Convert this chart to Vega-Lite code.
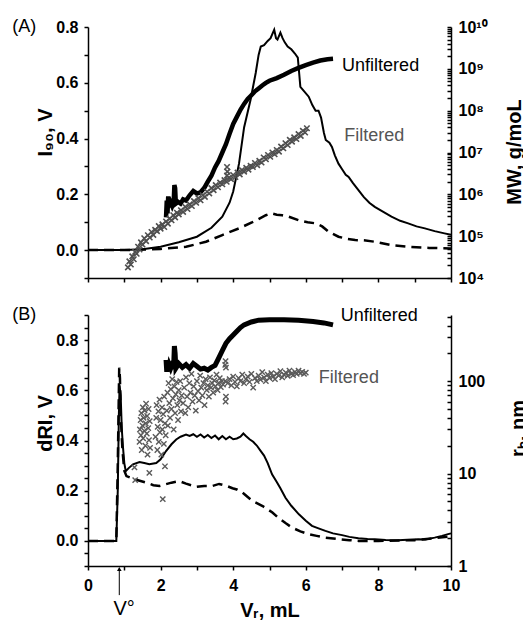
{
"$schema":"https://vega.github.io/schema/vega-lite/v6.json",
"padding":{"left":12,"top":18,"right":0,"bottom":0},
"bounds":"flush",
"spacing":37,
"config":{"view":{"stroke":null},"font":"Liberation Sans",
"axis":{"grid":false,"domainColor":"#000","domainWidth":1.5,"tickColor":"#000","tickWidth":1.5,"tickSize":4,"labelFont":"Liberation Sans","labelFontSize":16,"labelFontWeight":"bold","labelColor":"#000","titleFont":"Liberation Sans","titleFontSize":20,"titleFontWeight":"bold","titleColor":"#000","labelFlush":false,"labelOverlap":false,"labelBound":false}},
"datasets":{
"topSolid":[{"x":0,"v":0},{"x":0.5,"v":0},{"x":1,"v":0},{"x":1.5,"v":0.003},{"x":2,"v":0.012},{"x":2.5,"v":0.028},{"x":3,"v":0.048},{"x":3.4,"v":0.08},{"x":3.7,"v":0.12},{"x":3.9,"v":0.17},{"x":4,"v":0.21},{"x":4.16,"v":0.31},{"x":4.3,"v":0.44},{"x":4.48,"v":0.54},{"x":4.62,"v":0.635},{"x":4.7,"v":0.7},{"x":4.76,"v":0.73},{"x":4.85,"v":0.735},{"x":4.95,"v":0.75},{"x":5.03,"v":0.76},{"x":5.08,"v":0.775},{"x":5.13,"v":0.79},{"x":5.18,"v":0.76},{"x":5.22,"v":0.755},{"x":5.3,"v":0.78},{"x":5.36,"v":0.76},{"x":5.42,"v":0.745},{"x":5.5,"v":0.73},{"x":5.6,"v":0.72},{"x":5.7,"v":0.705},{"x":5.78,"v":0.69},{"x":5.85,"v":0.585},{"x":5.95,"v":0.57},{"x":6.08,"v":0.55},{"x":6.18,"v":0.52},{"x":6.27,"v":0.5},{"x":6.35,"v":0.5},{"x":6.42,"v":0.475},{"x":6.5,"v":0.42},{"x":6.55,"v":0.395},{"x":6.65,"v":0.385},{"x":6.72,"v":0.37},{"x":6.8,"v":0.34},{"x":6.9,"v":0.31},{"x":7,"v":0.29},{"x":7.1,"v":0.27},{"x":7.18,"v":0.262},{"x":7.3,"v":0.24},{"x":7.45,"v":0.215},{"x":7.6,"v":0.19},{"x":7.75,"v":0.17},{"x":7.9,"v":0.155},{"x":8.1,"v":0.14},{"x":8.36,"v":0.12},{"x":8.6,"v":0.105},{"x":8.82,"v":0.096},{"x":9.05,"v":0.085},{"x":9.28,"v":0.078},{"x":9.55,"v":0.068},{"x":9.82,"v":0.06},{"x":10,"v":0.055}],
"topDash":[{"x":0,"v":0},{"x":1,"v":0},{"x":2,"v":0.004},{"x":2.7,"v":0.012},{"x":3.25,"v":0.03},{"x":3.7,"v":0.054},{"x":4.16,"v":0.078},{"x":4.53,"v":0.1},{"x":4.9,"v":0.125},{"x":5.05,"v":0.132},{"x":5.2,"v":0.127},{"x":5.35,"v":0.125},{"x":5.53,"v":0.12},{"x":5.81,"v":0.107},{"x":6.05,"v":0.1},{"x":6.27,"v":0.096},{"x":6.45,"v":0.085},{"x":6.63,"v":0.066},{"x":6.9,"v":0.048},{"x":7.15,"v":0.04},{"x":7.36,"v":0.036},{"x":7.6,"v":0.035},{"x":7.9,"v":0.03},{"x":8.36,"v":0.018},{"x":8.82,"v":0.012},{"x":9.4,"v":0.008},{"x":10,"v":0.006}],
"topMWu":[{"x":2.15,"mw":2.8e5},{"x":2.17,"mw":7.1e5},{"x":2.19,"mw":3.5e5},{"x":2.21,"mw":8.9e5},{"x":2.24,"mw":5.0e5},{"x":2.28,"mw":6.3e5},{"x":2.32,"mw":5.2e5},{"x":2.36,"mw":6.3e5},{"x":2.38,"mw":1.66e6},{"x":2.4,"mw":1.41e6},{"x":2.42,"mw":6.0e5},{"x":2.48,"mw":6.6e5},{"x":2.55,"mw":6.0e5},{"x":2.62,"mw":7.6e5},{"x":2.7,"mw":7.1e5},{"x":2.8,"mw":9.5e5},{"x":2.9,"mw":1.2e6},{"x":3.0,"mw":1.05e6},{"x":3.1,"mw":1.12e6},{"x":3.2,"mw":1.41e6},{"x":3.3,"mw":2.0e6},{"x":3.4,"mw":2.8e6},{"x":3.5,"mw":4.4e6},{"x":3.6,"mw":6.3e6},{"x":3.7,"mw":1.0e7},{"x":3.8,"mw":1.58e7},{"x":3.9,"mw":2.8e7},{"x":4.0,"mw":4.8e7},{"x":4.1,"mw":7.1e7},{"x":4.2,"mw":1.05e8},{"x":4.3,"mw":1.45e8},{"x":4.4,"mw":1.9e8},{"x":4.5,"mw":2.34e8},{"x":4.6,"mw":2.9e8},{"x":4.7,"mw":3.4e8},{"x":4.8,"mw":4.0e8},{"x":4.9,"mw":4.6e8},{"x":5.0,"mw":5.2e8},{"x":5.2,"mw":6.0e8},{"x":5.4,"mw":7.2e8},{"x":5.6,"mw":8.9e8},{"x":5.8,"mw":1.05e9},{"x":6.0,"mw":1.23e9},{"x":6.2,"mw":1.41e9},{"x":6.4,"mw":1.58e9},{"x":6.6,"mw":1.7e9},{"x":6.75,"mw":1.74e9}],
"topMWf":[{"x":1.1,"mw":1.8e4},{"x":1.14,"mw":2.5e4},{"x":1.18,"mw":2.1e4},{"x":1.22,"mw":3.3e4},{"x":1.26,"mw":2.8e4},{"x":1.3,"mw":4.2e4},{"x":1.34,"mw":3.8e4},{"x":1.38,"mw":5.6e4},{"x":1.42,"mw":4.8e4},{"x":1.46,"mw":7.1e4},{"x":1.5,"mw":6.3e4},{"x":1.55,"mw":8.9e4},{"x":1.6,"mw":7.6e4},{"x":1.65,"mw":1.05e5},{"x":1.7,"mw":9.3e4},{"x":1.75,"mw":1.26e5},{"x":1.8,"mw":1.07e5},{"x":1.85,"mw":1.41e5},{"x":1.9,"mw":1.32e5},{"x":1.95,"mw":1.74e5},{"x":2.0,"mw":1.51e5},{"x":2.05,"mw":1.91e5},{"x":2.1,"mw":1.66e5},{"x":2.15,"mw":2.24e5},{"x":2.2,"mw":2.0e5},{"x":2.25,"mw":2.63e5},{"x":2.3,"mw":2.4e5},{"x":2.35,"mw":3.16e5},{"x":2.4,"mw":2.82e5},{"x":2.45,"mw":3.63e5},{"x":2.5,"mw":3.31e5},{"x":2.56,"mw":4.17e5},{"x":2.62,"mw":3.8e5},{"x":2.68,"mw":5.0e5},{"x":2.74,"mw":4.47e5},{"x":2.8,"mw":5.75e5},{"x":2.86,"mw":5.25e5},{"x":2.92,"mw":6.9e5},{"x":2.98,"mw":6.3e5},{"x":3.04,"mw":8.1e5},{"x":3.1,"mw":7.2e5},{"x":3.16,"mw":9.5e5},{"x":3.22,"mw":8.7e5},{"x":3.28,"mw":1.15e6},{"x":3.34,"mw":1.05e6},{"x":3.4,"mw":1.41e6},{"x":3.46,"mw":1.26e6},{"x":3.52,"mw":1.66e6},{"x":3.58,"mw":1.48e6},{"x":3.64,"mw":1.9e6},{"x":3.7,"mw":1.74e6},{"x":3.76,"mw":2.19e6},{"x":3.82,"mw":2.0e6},{"x":3.83,"mw":2.8e6},{"x":3.84,"mw":3.5e6},{"x":3.83,"mw":4.5e6},{"x":3.88,"mw":2.5e6},{"x":3.94,"mw":2.3e6},{"x":4.0,"mw":2.9e6},{"x":4.06,"mw":2.6e6},{"x":4.12,"mw":3.3e6},{"x":4.18,"mw":3.0e6},{"x":4.24,"mw":3.8e6},{"x":4.3,"mw":3.5e6},{"x":4.36,"mw":4.3e6},{"x":4.42,"mw":3.9e6},{"x":4.48,"mw":4.8e6},{"x":4.54,"mw":4.5e6},{"x":4.6,"mw":5.6e6},{"x":4.66,"mw":5.0e6},{"x":4.72,"mw":6.3e6},{"x":4.78,"mw":5.75e6},{"x":4.84,"mw":7.6e6},{"x":4.9,"mw":6.9e6},{"x":4.96,"mw":8.7e6},{"x":5.02,"mw":7.9e6},{"x":5.08,"mw":1.0e7},{"x":5.14,"mw":9.1e6},{"x":5.2,"mw":1.15e7},{"x":5.26,"mw":1.05e7},{"x":5.32,"mw":1.38e7},{"x":5.38,"mw":1.26e7},{"x":5.44,"mw":1.66e7},{"x":5.5,"mw":1.51e7},{"x":5.56,"mw":2.0e7},{"x":5.62,"mw":1.82e7},{"x":5.68,"mw":2.3e7},{"x":5.74,"mw":2.1e7},{"x":5.8,"mw":2.75e7},{"x":5.86,"mw":2.5e7},{"x":5.92,"mw":3.3e7},{"x":5.98,"mw":3.0e7},{"x":6.03,"mw":3.8e7}],
"topText":[{"x":-2.09,"v":0.782,"t":"(A)"},{"x":7.0,"v":0.643,"t":"Unfiltered"},{"x":7.06,"v":0.392,"t":"Filtered"}],
"botSolid":[{"x":0,"v":0},{"x":0.78,"v":0},{"x":0.82,"v":0.2},{"x":0.85,"v":0.5},{"x":0.87,"v":0.62},{"x":0.9,"v":0.58},{"x":0.93,"v":0.45},{"x":0.96,"v":0.38},{"x":1.0,"v":0.31},{"x":1.04,"v":0.278},{"x":1.12,"v":0.29},{"x":1.24,"v":0.305},{"x":1.42,"v":0.314},{"x":1.55,"v":0.31},{"x":1.69,"v":0.305},{"x":1.88,"v":0.31},{"x":2.0,"v":0.325},{"x":2.15,"v":0.358},{"x":2.3,"v":0.385},{"x":2.43,"v":0.404},{"x":2.55,"v":0.415},{"x":2.7,"v":0.424},{"x":2.8,"v":0.418},{"x":2.9,"v":0.425},{"x":3.0,"v":0.415},{"x":3.1,"v":0.424},{"x":3.2,"v":0.412},{"x":3.3,"v":0.422},{"x":3.4,"v":0.41},{"x":3.5,"v":0.42},{"x":3.6,"v":0.405},{"x":3.7,"v":0.418},{"x":3.8,"v":0.405},{"x":3.9,"v":0.415},{"x":4.0,"v":0.405},{"x":4.1,"v":0.408},{"x":4.2,"v":0.415},{"x":4.28,"v":0.428},{"x":4.35,"v":0.418},{"x":4.45,"v":0.405},{"x":4.55,"v":0.395},{"x":4.65,"v":0.38},{"x":4.75,"v":0.36},{"x":4.85,"v":0.34},{"x":4.95,"v":0.31},{"x":5.07,"v":0.265},{"x":5.2,"v":0.235},{"x":5.3,"v":0.21},{"x":5.44,"v":0.172},{"x":5.6,"v":0.14},{"x":5.81,"v":0.106},{"x":6.0,"v":0.08},{"x":6.17,"v":0.06},{"x":6.35,"v":0.05},{"x":6.54,"v":0.04},{"x":6.75,"v":0.03},{"x":7.0,"v":0.023},{"x":7.2,"v":0.016},{"x":7.45,"v":0.011},{"x":7.7,"v":0.008},{"x":7.9,"v":0.007},{"x":8.2,"v":0.004},{"x":8.54,"v":0.003},{"x":8.8,"v":0.005},{"x":9.1,"v":0.007},{"x":9.3,"v":0.006},{"x":9.55,"v":0.013},{"x":9.75,"v":0.02},{"x":9.92,"v":0.027},{"x":10,"v":0.03}],
"botDash":[{"x":0,"v":0},{"x":0.78,"v":0},{"x":0.82,"v":0.3},{"x":0.86,"v":0.69},{"x":0.88,"v":0.65},{"x":0.9,"v":0.5},{"x":0.95,"v":0.36},{"x":1.0,"v":0.28},{"x":1.06,"v":0.258},{"x":1.29,"v":0.245},{"x":1.61,"v":0.232},{"x":1.8,"v":0.222},{"x":1.97,"v":0.219},{"x":2.1,"v":0.224},{"x":2.3,"v":0.232},{"x":2.52,"v":0.238},{"x":2.7,"v":0.228},{"x":2.98,"v":0.215},{"x":3.2,"v":0.219},{"x":3.43,"v":0.219},{"x":3.61,"v":0.227},{"x":3.8,"v":0.22},{"x":3.98,"v":0.21},{"x":4.1,"v":0.205},{"x":4.26,"v":0.192},{"x":4.4,"v":0.175},{"x":4.53,"v":0.159},{"x":4.81,"v":0.139},{"x":5.08,"v":0.113},{"x":5.26,"v":0.09},{"x":5.45,"v":0.07},{"x":5.62,"v":0.053},{"x":5.85,"v":0.038},{"x":6.08,"v":0.027},{"x":6.3,"v":0.02},{"x":6.54,"v":0.013},{"x":6.9,"v":0.007},{"x":7.2,"v":0.003},{"x":7.45,"v":0.0},{"x":8,"v":0.0},{"x":9,"v":0.003},{"x":9.5,"v":0.01},{"x":10,"v":0.018}],
"botRHu":[{"x":2.15,"rh":170},{"x":2.17,"rh":126},{"x":2.19,"rh":158},{"x":2.21,"rh":132},{"x":2.24,"rh":151},{"x":2.28,"rh":138},{"x":2.32,"rh":151},{"x":2.36,"rh":145},{"x":2.38,"rh":240},{"x":2.4,"rh":200},{"x":2.42,"rh":138},{"x":2.5,"rh":155},{"x":2.6,"rh":141},{"x":2.7,"rh":151},{"x":2.8,"rh":138},{"x":2.9,"rh":155},{"x":3.0,"rh":145},{"x":3.1,"rh":135},{"x":3.2,"rh":138},{"x":3.3,"rh":132},{"x":3.4,"rh":141},{"x":3.5,"rh":148},{"x":3.6,"rh":178},{"x":3.7,"rh":214},{"x":3.8,"rh":257},{"x":3.9,"rh":288},{"x":4.0,"rh":316},{"x":4.1,"rh":347},{"x":4.2,"rh":380},{"x":4.3,"rh":407},{"x":4.5,"rh":437},{"x":4.7,"rh":457},{"x":5.0,"rh":462},{"x":5.4,"rh":462},{"x":5.8,"rh":457},{"x":6.2,"rh":442},{"x":6.5,"rh":427},{"x":6.75,"rh":407}],
"botRHf":[{"x":1.28,"rh":11.7},{"x":1.3,"rh":8.5},{"x":1.69,"rh":10.2},{"x":2.12,"rh":12},{"x":2.06,"rh":5.3},
{"x":1.42,"rh":22},{"x":1.43,"rh":30},{"x":1.45,"rh":38},{"x":1.46,"rh":26},{"x":1.47,"rh":45},{"x":1.48,"rh":18},{"x":1.5,"rh":33},{"x":1.51,"rh":52},{"x":1.52,"rh":24},{"x":1.53,"rh":40},{"x":1.55,"rh":29},{"x":1.56,"rh":48},{"x":1.58,"rh":20},{"x":1.59,"rh":35},{"x":1.6,"rh":57},{"x":1.62,"rh":27},{"x":1.63,"rh":42},{"x":1.64,"rh":16},{"x":1.66,"rh":31},{"x":1.67,"rh":50},{"x":1.68,"rh":23},{"x":1.7,"rh":37},{"x":1.71,"rh":19},
{"x":1.86,"rh":25},{"x":1.88,"rh":40},{"x":1.89,"rh":55},{"x":1.91,"rh":18},{"x":1.92,"rh":32},{"x":1.94,"rh":47},{"x":1.95,"rh":22},{"x":1.97,"rh":63},{"x":1.98,"rh":28},{"x":2.0,"rh":38},{"x":2.02,"rh":16},{"x":2.04,"rh":52},{"x":2.05,"rh":30},{"x":2.07,"rh":44},{"x":2.09,"rh":21},{"x":2.1,"rh":68},{"x":2.12,"rh":35},{"x":2.14,"rh":26},
{"x":2.17,"rh":48},{"x":2.19,"rh":75},{"x":2.2,"rh":33},{"x":2.22,"rh":95},{"x":2.24,"rh":58},{"x":2.26,"rh":40},{"x":2.28,"rh":82},{"x":2.3,"rh":50},{"x":2.32,"rh":105},{"x":2.34,"rh":65},{"x":2.36,"rh":30},{"x":2.38,"rh":88},{"x":2.4,"rh":45},{"x":2.42,"rh":72},{"x":2.44,"rh":98},{"x":2.46,"rh":55},{"x":2.48,"rh":38},{"x":2.5,"rh":80},{"x":2.52,"rh":62},{"x":2.54,"rh":100},{"x":2.56,"rh":47},{"x":2.58,"rh":70},
{"x":2.62,"rh":58},{"x":2.65,"rh":85},{"x":2.68,"rh":45},{"x":2.7,"rh":110},{"x":2.73,"rh":68},{"x":2.76,"rh":52},{"x":2.79,"rh":95},{"x":2.82,"rh":75},{"x":2.85,"rh":120},{"x":2.88,"rh":60},{"x":2.91,"rh":88},{"x":2.94,"rh":70},{"x":2.97,"rh":48},{"x":3.0,"rh":100},{"x":3.03,"rh":78},{"x":3.06,"rh":62},{"x":3.09,"rh":115},{"x":3.12,"rh":85},{"x":3.15,"rh":70},{"x":3.18,"rh":95},{"x":3.21,"rh":55},{"x":3.24,"rh":105},{"x":3.27,"rh":80},{"x":3.3,"rh":90},{"x":3.33,"rh":68},{"x":3.36,"rh":110},{"x":3.39,"rh":85},{"x":3.42,"rh":95},{"x":3.45,"rh":75},{"x":3.48,"rh":102},{"x":3.51,"rh":88},{"x":3.54,"rh":118},{"x":3.57,"rh":80},{"x":3.6,"rh":96},{"x":3.63,"rh":108},{"x":3.66,"rh":86},{"x":3.69,"rh":100},{"x":3.72,"rh":92},
{"x":3.78,"rh":150},{"x":3.79,"rh":165},{"x":3.8,"rh":140},{"x":3.79,"rh":60},{"x":3.8,"rh":68},{"x":3.78,"rh":100},
{"x":3.85,"rh":95},{"x":3.9,"rh":105},{"x":3.95,"rh":90},{"x":4.0,"rh":112},{"x":4.05,"rh":98},{"x":4.1,"rh":88},{"x":4.15,"rh":108},{"x":4.2,"rh":100},{"x":4.25,"rh":118},{"x":4.3,"rh":95},{"x":4.35,"rh":105},{"x":4.4,"rh":112},{"x":4.45,"rh":98},{"x":4.5,"rh":120},{"x":4.55,"rh":85},{"x":4.6,"rh":108},{"x":4.65,"rh":100},{"x":4.7,"rh":115},{"x":4.75,"rh":104},{"x":4.8,"rh":125},{"x":4.85,"rh":110},{"x":4.9,"rh":100},{"x":4.95,"rh":118},{"x":5.0,"rh":108},{"x":5.05,"rh":122},{"x":5.1,"rh":112},{"x":5.15,"rh":105},{"x":5.2,"rh":120},{"x":5.25,"rh":115},{"x":5.3,"rh":128},{"x":5.35,"rh":110},{"x":5.4,"rh":118},{"x":5.45,"rh":124},{"x":5.5,"rh":114},{"x":5.55,"rh":130},{"x":5.6,"rh":120},{"x":5.65,"rh":116},{"x":5.7,"rh":126},{"x":5.75,"rh":120},{"x":5.8,"rh":130},{"x":5.85,"rh":122},{"x":5.9,"rh":126},{"x":5.95,"rh":120},{"x":6.0,"rh":124}],
"botText":[{"x":-2.09,"v":0.88,"t":"(B)"},{"x":6.96,"v":0.877,"t":"Unfiltered"},{"x":6.36,"v":0.629,"t":"Filtered"}],
"botV0":[{"x":0.7,"v":-0.296,"t":"V°"}],
"botArrow":[{"x":0.862,"v":-0.216,"v2":-0.112}]
},
"vconcat":[
{"width":363,"height":251,
"layer":[
{"layer":[
{"data":{"name":"topSolid"},"mark":{"type":"line","color":"#000","strokeWidth":2},
"encoding":{"x":{"field":"x","type":"quantitative","scale":{"domain":[0,10],"nice":false},"axis":{"values":[0,1,2,3,4,5,6,7,8,9,10],"tickCount":100,"labels":false,"title":null,"tickSize":4}},
"y":{"field":"v","type":"quantitative","scale":{"domain":[-0.1,0.8],"nice":false,"zero":false},"axis":{"title":"I₉₀, V","values":[-0.1,0,0.1,0.2,0.3,0.4,0.5,0.6,0.7,0.8],"tickCount":100,"format":".1f","labelExpr":"indexof(['0.0','0.2','0.4','0.6','0.8'], datum.label) >= 0 ? datum.label : ''","labelOverlap":false,"tickSize":4,"labelPadding":6,"titleAngle":-90,"titleX":-37,"titleY":105,"titleBaseline":"alphabetic","titleAlign":"center"}}}},
{"data":{"name":"topDash"},"mark":{"type":"line","color":"#000","strokeWidth":2.5,"strokeDash":[10,6]},
"encoding":{"x":{"field":"x","type":"quantitative","scale":{"domain":[0,10],"nice":false}},"y":{"field":"v","type":"quantitative","scale":{"domain":[-0.1,0.8],"nice":false,"zero":false}}}},
{"data":{"name":"topText"},"mark":{"type":"text","align":"left","baseline":"alphabetic","fontSize":18,"font":"Liberation Sans"},
"encoding":{"x":{"field":"x","type":"quantitative","scale":{"domain":[0,10],"nice":false}},"y":{"field":"v","type":"quantitative","scale":{"domain":[-0.1,0.8],"nice":false,"zero":false}},"text":{"field":"t"},"color":{"field":"t","type":"nominal","scale":{"domain":["(A)","Unfiltered","Filtered"],"range":["#000000","#000000","#555555"]},"legend":null}}}
]},
{"layer":[
{"data":{"name":"topMWu"},"mark":{"type":"line","color":"#000","strokeWidth":4.5},
"encoding":{"x":{"field":"x","type":"quantitative","scale":{"domain":[0,10],"nice":false}},
"y":{"field":"mw","type":"quantitative","scale":{"type":"log","domain":[1e4,1e10],"nice":false},"axis":{"orient":"right","title":"MW, g/moL","values":[1e4,2e4,3e4,4e4,5e4,6e4,7e4,8e4,9e4,1e5,2e5,3e5,4e5,5e5,6e5,7e5,8e5,9e5,1e6,2e6,3e6,4e6,5e6,6e6,7e6,8e6,9e6,1e7,2e7,3e7,4e7,5e7,6e7,7e7,8e7,9e7,1e8,2e8,3e8,4e8,5e8,6e8,7e8,8e8,9e8,1e9,2e9,3e9,4e9,5e9,6e9,7e9,8e9,9e9,1e10],"tickCount":100,"labelExpr":"abs(log(datum.value)/LN10 - round(log(datum.value)/LN10)) < 0.001 ? '10' + ['⁰','¹','²','³','⁴','⁵','⁶','⁷','⁸','⁹','¹⁰'][round(log(datum.value)/LN10)] : ''","labelOverlap":false,"tickSize":-4,"labelPadding":11,"titleAngle":-90,"titleX":69,"titleY":124.5,"titleBaseline":"alphabetic","titleAlign":"center"}}}},
{"data":{"name":"topMWf"},"mark":{"type":"point","shape":"M-1,-1L1,1M1,-1L-1,1","filled":false,"size":30,"strokeWidth":1.6,"color":"#4f4f4f","opacity":1},
"encoding":{"x":{"field":"x","type":"quantitative","scale":{"domain":[0,10],"nice":false}},"y":{"field":"mw","type":"quantitative","scale":{"type":"log","domain":[1e4,1e10],"nice":false}}}}
]}
],
"resolve":{"scale":{"y":"independent"}}},
{"width":363,"height":251,
"layer":[
{"layer":[
{"data":{"name":"botSolid"},"mark":{"type":"line","color":"#000","strokeWidth":2},
"encoding":{"x":{"field":"x","type":"quantitative","scale":{"domain":[0,10],"nice":false},"axis":{"values":[0,1,2,3,4,5,6,7,8,9,10],"tickCount":100,"format":"d","labelExpr":"datum.value % 2 == 0 ? datum.label : ''","labelOverlap":false,"title":"Vᵣ, mL","tickSize":4,"labelPadding":7,"titleY":50,"titleBaseline":"alphabetic"}},
"y":{"field":"v","type":"quantitative","scale":{"domain":[-0.1,0.9],"nice":false,"zero":false},"axis":{"title":"dRI, V","values":[-0.1,-0.05,0,0.05,0.1,0.15,0.2,0.25,0.3,0.35,0.4,0.45,0.5,0.55,0.6,0.65,0.7,0.75,0.8,0.85,0.9],"tickCount":100,"format":".2f","labelExpr":"indexof(['0.00','0.20','0.40','0.60','0.80'], datum.label) >= 0 ? substring(datum.label, 0, 3) : ''","labelOverlap":false,"tickSize":4,"labelPadding":6,"titleAngle":-90,"titleX":-37,"titleY":108,"titleBaseline":"alphabetic","titleAlign":"center"}}}},
{"data":{"name":"botDash"},"mark":{"type":"line","color":"#000","strokeWidth":2.5,"strokeDash":[10,6]},
"encoding":{"x":{"field":"x","type":"quantitative","scale":{"domain":[0,10],"nice":false}},"y":{"field":"v","type":"quantitative","scale":{"domain":[-0.1,0.9],"nice":false,"zero":false}}}},
{"data":{"name":"botText"},"mark":{"type":"text","align":"left","baseline":"alphabetic","fontSize":18,"font":"Liberation Sans"},
"encoding":{"x":{"field":"x","type":"quantitative","scale":{"domain":[0,10],"nice":false}},"y":{"field":"v","type":"quantitative","scale":{"domain":[-0.1,0.9],"nice":false,"zero":false}},"text":{"field":"t"},"color":{"field":"t","type":"nominal","scale":{"domain":["(B)","Unfiltered","Filtered"],"range":["#000000","#000000","#555555"]},"legend":null}}},
{"data":{"name":"botV0"},"mark":{"type":"text","align":"left","baseline":"alphabetic","fontSize":20,"font":"Liberation Sans","color":"#000"},
"encoding":{"x":{"field":"x","type":"quantitative","scale":{"domain":[0,10],"nice":false}},"y":{"field":"v","type":"quantitative","scale":{"domain":[-0.1,0.9],"nice":false,"zero":false}},"text":{"field":"t"}}},
{"data":{"name":"botArrow"},"mark":{"type":"rule","color":"#000","strokeWidth":1},
"encoding":{"x":{"field":"x","type":"quantitative","scale":{"domain":[0,10],"nice":false}},"y":{"field":"v","type":"quantitative","scale":{"domain":[-0.1,0.9],"nice":false,"zero":false}},"y2":{"field":"v2"}}},
{"data":{"name":"botArrow"},"mark":{"type":"point","shape":"triangle-up","filled":true,"size":22,"color":"#000","opacity":1},
"encoding":{"x":{"field":"x","type":"quantitative","scale":{"domain":[0,10],"nice":false}},"y":{"field":"v2","type":"quantitative","scale":{"domain":[-0.1,0.9],"nice":false,"zero":false}}}}
]},
{"layer":[
{"data":{"name":"botRHu"},"mark":{"type":"line","color":"#000","strokeWidth":5},
"encoding":{"x":{"field":"x","type":"quantitative","scale":{"domain":[0,10],"nice":false}},
"y":{"field":"rh","type":"quantitative","scale":{"type":"log","domain":[1,520],"nice":false},"axis":{"orient":"right","title":"rₕ, nm","values":[1,2,3,4,5,6,7,8,9,10,20,30,40,50,60,70,80,90,100,200,300,400,500],"tickCount":100,"labelExpr":"abs(log(datum.value)/LN10 - round(log(datum.value)/LN10)) < 0.001 ? format(datum.value, 'd') : ''","labelOverlap":false,"tickSize":-4,"labelPadding":11,"titleAngle":-90,"titleX":73,"titleY":113,"titleBaseline":"alphabetic","titleAlign":"center"}}}},
{"data":{"name":"botRHf"},"mark":{"type":"point","shape":"M-1,-1L1,1M1,-1L-1,1","filled":false,"size":28,"strokeWidth":1.4,"color":"#5a5a5a","opacity":1},
"encoding":{"x":{"field":"x","type":"quantitative","scale":{"domain":[0,10],"nice":false}},"y":{"field":"rh","type":"quantitative","scale":{"type":"log","domain":[1,520],"nice":false}}}}
]}
],
"resolve":{"scale":{"y":"independent"}}}
]
}
